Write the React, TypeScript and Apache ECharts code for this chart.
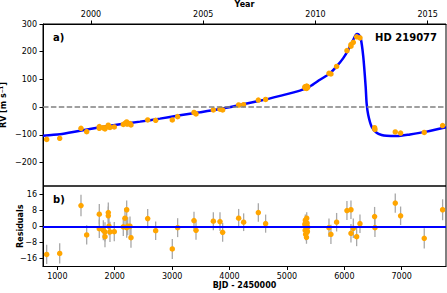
import React, { useEffect, useRef } from "react";
import * as echarts from "echarts";

// Observation epochs (BJD - 2450000)
const obsTime = [
  814, 1041, 1412, 1511, 1731, 1731, 1801, 1830, 1830, 1888, 1888, 1900, 1917, 1992,
  2149, 2179, 2208, 2208, 2226, 2266, 2283, 2574, 2713, 3003, 3096, 3381, 3416, 3718,
  3834, 3880, 4159, 4246, 4502, 4629,
  5312, 5318, 5321, 5326, 5330, 5334, 5337, 5341, 5345, 5348, 5352, 5357, 5362,
  5733, 5767, 5866, 6046, 6116, 6116, 6157, 6215, 6273, 6528, 6534, 6888, 6981, 7393, 7713,
];
// Radial velocities (m/s)
const obsRV = [
  -116, -112, -76, -88, -70, -76, -74, -75, -78, -65, -67, -71, -73, -71,
  -62, -58, -53, -60, -60, -59, -64, -46, -47, -46, -34, -19, -24, -10,
  -7, -10, 8, 9, 26, 28,
  72, 70, 74, 69, 72, 73, 71, 68, 76, 70, 74, 71, 73,
  122, 120, 147, 204, 226, 220, 234, 254, 250, -74, -80, -89, -93, -91, -66,
];
// Residuals (m/s)
const obsRes = [
  -14, -13.5, 10.3, -4.3, 6, -1.2, -2, -2.8, -5.2, 6.8, 5.2, 0, -2.8, -2.7,
  -0.3, 4, 8.2, -0.7, 0, 0, -5.7, 3.8, -2.2, -11.3, -0.7, 2.8, -2, 2.5,
  2.3, -3, 4, 2, 6.8, 1.3,
  1, -2, 3, -4, 0.5, 2, -1, -5.5, 4, -3, 1.5, -2.5, -0.5,
  -0.7, -4, 2, 7.8, 8.2, -3.5, -1, -5.2, 1.3, 4.8, -0.7, 11.5, 5.2, -6, 8.2,
];
// Error bars (m/s)
const obsErr = [
  4.8, 5, 5.3, 4.8, 5, 4.6, 5, 4.8, 5.2, 5, 4.6, 4.5, 5, 4.8,
  4.6, 5, 4.6, 5, 4.5, 4.8, 5, 4.8, 4.6, 5, 4.7, 4.4, 4.7, 4.5,
  4.6, 4.7, 4.6, 4.4, 4.6, 4.5,
  3, 3.2, 2.8, 3, 3.1, 2.9, 3, 3.2, 3, 2.9, 3.1, 3, 3,
  4.6, 4.8, 4.6, 4.7, 4.6, 4.6, 4.8, 4.7, 4.6, 4.8, 4.7, 4.75, 4.6, 5, 5.2,
];

// Orbit model curve
const modelTime = [
  750, 1047, 1395, 1743, 2092, 2440, 2788, 3137, 3485, 3834, 4182, 4530, 4879, 5227,
  5401, 5575, 5750, 5866, 5982, 6069, 6156, 6203, 6226, 6250, 6285, 6330, 6372, 6389,
  6417, 6476, 6563, 6650, 6737, 6912, 7144, 7434, 7772,
];
const modelRV = [
  -102.5, -97.7, -84.5, -72.4, -61.5, -51.9, -41.1, -29, -18.2, -6.5, 8, 23, 40.8, 60,
  75, 99, 122, 147, 177, 207, 243, 261, 264, 262, 250, 183, 74, 14,
  -28, -70, -92, -100, -103, -104, -98, -88, -72,
];

const rvTicks = [-200, -100, 0, 100, 200, 300];
const resTicks = [-16, -8, 0, 8, 16];
const bjdTicks = [1000, 2000, 3000, 4000, 5000, 6000, 7000];
const yearTicks = [2000, 2005, 2010, 2015];

const FONT = "DejaVu Sans";
const plainFmt = (v: number) => String(Math.round(v)).replace("-", "\u2212");

export default function App() {
  const ref = useRef<HTMLDivElement>(null);
  useEffect(() => {
    if (!ref.current) return;
    const chart = echarts.init(ref.current, undefined, { renderer: "svg" });
    const axisText = { fontFamily: FONT, fontSize: 8, color: "#000" };
    const nameText = { fontFamily: FONT, fontSize: 8, fontWeight: "bold" as const, color: "#000" };
    const black = { color: "#000", width: 1 };
    const option: any = {
      animation: false,
      backgroundColor: "#fff",
      grid: [
        { left: 43, right: 1, top: 24, height: 162, show: true, borderColor: "#000", borderWidth: 1, backgroundColor: "transparent", outerBoundsMode: "none", containLabel: false },
        { left: 43, right: 1, top: 186, height: 80.5, show: true, borderColor: "#000", borderWidth: 1, backgroundColor: "transparent", outerBoundsMode: "none", containLabel: false },
      ],
      xAxis: [
        {
          type: "value", gridIndex: 0, min: 750, max: 7772, position: "bottom",
          axisLine: { show: false, onZero: false }, axisTick: { show: false },
          axisLabel: { show: false }, splitLine: { show: false },
        },
        {
          type: "value", gridIndex: 0, min: 1997.862, max: 2015.815, position: "top",
          name: "Year", nameLocation: "middle", nameGap: 16, nameMoveOverlap: false, nameTextStyle: nameText,
          axisLine: { show: true, onZero: false, lineStyle: black },
          axisTick: { show: true, length: 3.5, customValues: yearTicks, lineStyle: black },
          axisLabel: { customValues: yearTicks, margin: 6, formatter: plainFmt, ...axisText },
          splitLine: { show: false },
        },
        {
          type: "value", gridIndex: 1, min: 750, max: 7772, position: "bottom",
          name: "BJD - 2450000", nameLocation: "middle", nameGap: 15, nameMoveOverlap: false, nameTextStyle: nameText,
          axisLine: { show: true, onZero: false, lineStyle: black },
          axisTick: { show: true, length: 3.5, customValues: bjdTicks, lineStyle: black },
          axisLabel: { customValues: bjdTicks, margin: 5.5, formatter: plainFmt, ...axisText },
          splitLine: { show: false },
        },
      ],
      yAxis: [
        {
          type: "value", gridIndex: 0, min: -284, max: 300,
          name: "RV [m s\u207B\u00B9]", nameLocation: "middle", nameGap: 35.5, nameMoveOverlap: false, nameTextStyle: nameText,
          axisLine: { show: true, onZero: false, lineStyle: black },
          axisTick: { show: true, length: 3.5, customValues: rvTicks, lineStyle: black },
          axisLabel: { customValues: rvTicks, margin: 6, formatter: plainFmt, ...axisText },
          splitLine: { show: false },
        },
        {
          type: "value", gridIndex: 1, min: -20, max: 20,
          name: "Residuals", nameLocation: "middle", nameGap: 19, nameMoveOverlap: false, nameTextStyle: nameText,
          axisLine: { show: true, onZero: false, lineStyle: black },
          axisTick: { show: true, length: 3.5, customValues: resTicks, lineStyle: black },
          axisLabel: { customValues: resTicks, margin: 6, formatter: plainFmt, ...axisText },
          splitLine: { show: false },
        },
      ],
      graphic: [
        { type: "text", left: 53, top: 32, style: { text: "a)", font: `bold 10px '${FONT}'`, fill: "#000" } },
        { type: "text", right: 10, top: 32, style: { text: "HD 219077", font: `bold 10px '${FONT}'`, fill: "#000" } },
        { type: "text", left: 53, top: 194, style: { text: "b)", font: `bold 10px '${FONT}'`, fill: "#000" } },
      ],
      series: [
        {
          type: "scatter", xAxisIndex: 0, yAxisIndex: 0, data: [], z: 1,
          markLine: {
            silent: true, symbol: "none", label: { show: false },
            lineStyle: { color: "#808080", type: [5.5, 2.4], width: 1.5 },
            data: [{ yAxis: 0 }],
          },
        },
        {
          type: "line", xAxisIndex: 0, yAxisIndex: 0, z: 2,
          data: modelTime.map((t, i) => [t, modelRV[i]]),
          showSymbol: false, smooth: 0.25,
          lineStyle: { color: "#0000ff", width: 2.5 },
        },
        {
          type: "scatter", xAxisIndex: 0, yAxisIndex: 0, z: 3,
          data: obsTime.map((t, i) => [t, obsRV[i]]),
          symbolSize: 5.5, itemStyle: { color: "#FFA500", opacity: 1 },
        },
        {
          type: "custom", xAxisIndex: 2, yAxisIndex: 1, z: 1,
          data: obsTime.map((t, i) => [t, obsRes[i], obsErr[i]]),
          encode: { x: 0, y: 1 },
          renderItem: (params: any, api: any) => {
            const t = api.value(0), r = api.value(1), e = api.value(2);
            const p1 = api.coord([t, r - e]);
            const p2 = api.coord([t, r + e]);
            return {
              type: "line",
              shape: { x1: p1[0], y1: p1[1], x2: p2[0], y2: p2[1] },
              style: { stroke: "#a8a8a8", lineWidth: 1.3 },
            };
          },
        },
        {
          type: "scatter", xAxisIndex: 2, yAxisIndex: 1, data: [], z: 2,
          markLine: {
            silent: true, symbol: "none", label: { show: false },
            lineStyle: { color: "#0000ff", type: "solid", width: 2 },
            data: [{ yAxis: 0 }],
          },
        },
        {
          type: "scatter", xAxisIndex: 2, yAxisIndex: 1, z: 3,
          data: obsTime.map((t, i) => [t, obsRes[i]]),
          symbolSize: 5.5, itemStyle: { color: "#FFA500", opacity: 1 },
        },
      ],
    };
    chart.setOption(option);
    return () => chart.dispose();
  }, []);
  return (
    <div
      ref={ref}
      style={{ position: "fixed", left: 0, top: 0, width: 447, height: 293, background: "#fff" }}
    />
  );
}
